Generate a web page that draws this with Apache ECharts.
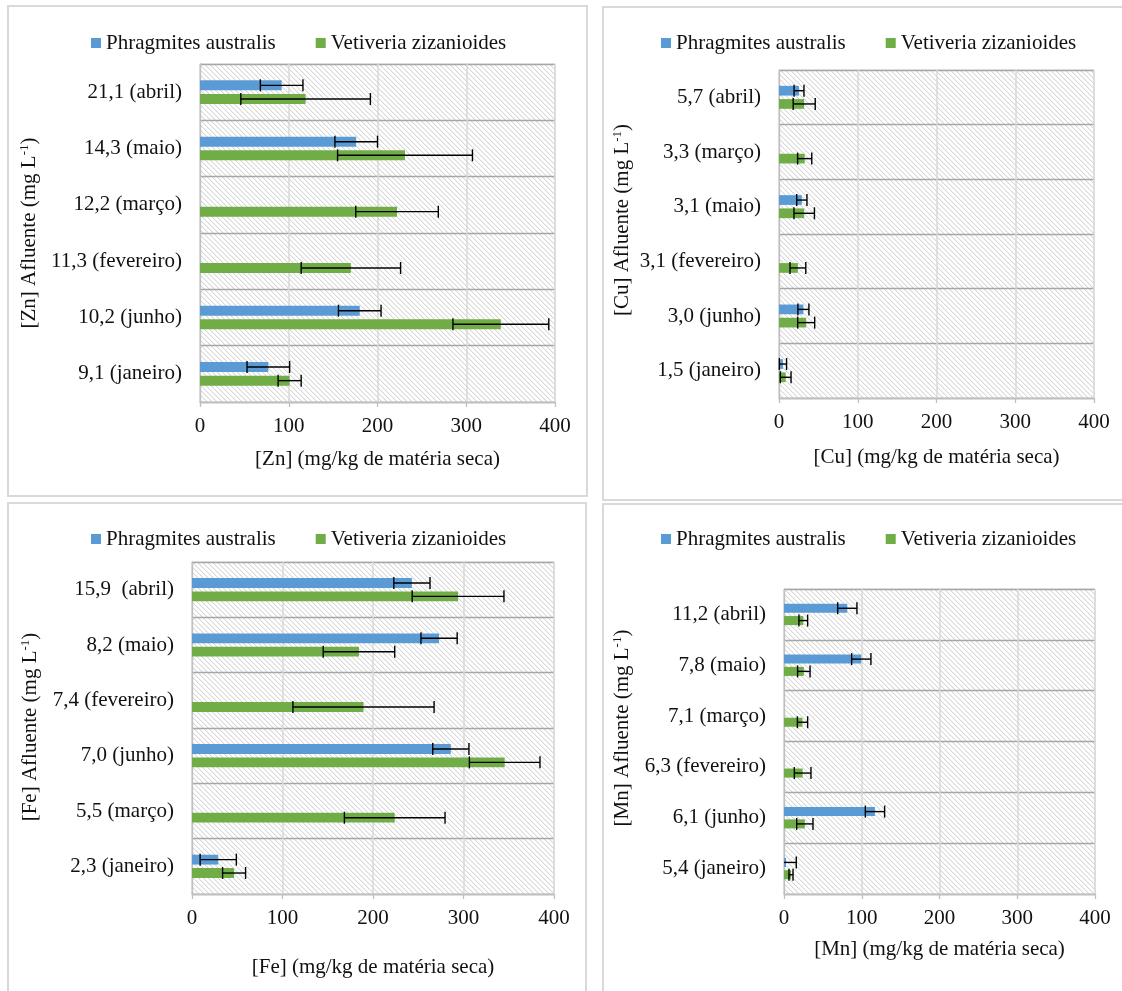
<!DOCTYPE html>
<html>
<head>
<meta charset="utf-8">
<title>Metais na biomassa</title>
<script src="https://cdn.jsdelivr.net/npm/echarts@6/dist/echarts.min.js"></script>
<style>
  html, body { margin: 0; padding: 0; background: #ffffff; }
  #chart { width: 1122px; height: 991px; }
</style>
</head>
<body>
<div id="chart"></div>
<script>
// ---- Dados (concentração no afluente, mês) ----
const seriesNames = ['Phragmites australis', 'Vetiveria zizanioides'];
const tickValues = [0, 100, 200, 300, 400];

const znCategories = ['9,1 (janeiro)', '10,2 (junho)', '11,3 (fevereiro)', '12,2 (março)', '14,3 (maio)', '21,1 (abril)'];
const znPhragmites = [77, 180, null, null, 176, 92];
const znPhragmitesErr = [24, 24, null, null, 24, 24];
const znVetiveria = [101, 339, 170, 222, 231, 119];
const znVetiveriaErr = [13, 54, 56, 46.5, 76, 73];

const cuCategories = ['1,5 (janeiro)', '3,0 (junho)', '3,1 (fevereiro)', '3,1 (maio)', '3,3 (março)', '5,7 (abril)'];
const cuPhragmites = [5, 31, null, 29, null, 25.4];
const cuPhragmitesErr = [4.6, 7, null, 6.5, null, 6.3];
const cuVetiveria = [8.5, 34.5, 24, 32, 32.6, 32];
const cuVetiveriaErr = [6.8, 10.8, 10, 13, 9, 14];

const feCategories = ['2,3 (janeiro)', '5,5 (março)', '7,0 (junho)', '7,4 (fevereiro)', '8,2 (maio)', '15,9  (abril)'];
const fePhragmites = [29, null, 286, null, 273, 243];
const fePhragmitesErr = [20, null, 20, null, 20, 20];
const feVetiveria = [46.5, 224, 345.5, 189.5, 184.5, 294];
const feVetiveriaErr = [12.7, 55.6, 39, 78, 39.5, 50.7];

const mnCategories = ['5,4 (janeiro)', '6,1 (junho)', '6,3 (fevereiro)', '7,1 (março)', '7,8 (maio)', '11,2 (abril)'];
const mnPhragmites = [2.6, 117, null, null, 99.4, 81.4];
const mnPhragmitesErr = [13.2, 12.4, null, null, 12.4, 12.4];
const mnVetiveria = [9, 26.8, 24, 23.8, 25.5, 24.8];
const mnVetiveriaErr = [2.6, 10.5, 10.7, 6.6, 8, 5.6];

// ---- Estilo ----
const FONT = "'Liberation Serif', 'Times New Roman', serif";
const TEXT = '#111111';
const BLUE = '#5B9BD5';
const GREEN = '#70AD47';
const CAT_GAP = 0.58;   // barCategoryGap
const BAR_GAP = 0.36;   // barGap

// Diagonal hatch used as plot-area fill
function hatchCanvas() {
  const n = 5;
  const c = document.createElement('canvas');
  c.width = n; c.height = n;
  const ctx = c.getContext('2d');
  ctx.fillStyle = '#ffffff';
  ctx.fillRect(0, 0, n, n);
  for (let i = 0; i < n; i++) {
    ctx.fillStyle = '#d8d8d8';
    ctx.fillRect(i, i, 1, 1);
    ctx.fillStyle = '#f0f0f0';
    ctx.fillRect((i + 1) % n, i, 1, 1);
  }
  return c;
}
const hatch = { image: hatchCanvas(), repeat: 'repeat' };

// Error bar drawn at the end of each bar, offset to the bar's slot
function errorRenderer(sign) {
  return function (params, api) {
    const cat = api.value(0);
    const mean = api.value(1);
    const err = api.value(2);
    const band = api.size([0, 1])[1];
    const barW = band * (1 - CAT_GAP) / (2 + BAR_GAP);
    const dy = sign * barW * (1 + BAR_GAP) / 2;
    const lowV = mean - err;
    const pLow = api.coord([Math.max(lowV, 0), cat]);
    const pHigh = api.coord([mean + err, cat]);
    const y = pLow[1] + dy;
    const half = 6;
    const st = { stroke: '#000000', lineWidth: 1.4 };
    const children = [
      { type: 'line', shape: { x1: pLow[0], y1: y, x2: pHigh[0], y2: y }, style: st },
      { type: 'line', shape: { x1: pHigh[0], y1: y - half, x2: pHigh[0], y2: y + half }, style: st }
    ];
    if (lowV >= 0) {
      children.push({ type: 'line', shape: { x1: pLow[0], y1: y - half, x2: pLow[0], y2: y + half }, style: st });
    }
    return { type: 'group', children: children };
  };
}

function errData(values, errs) {
  const out = [];
  values.forEach(function (v, i) {
    if (v !== null && errs[i] !== null) out.push([i, v, errs[i]]);
  });
  return out;
}

const panels = [
  { cats: znCategories, a: znPhragmites, aErr: znPhragmitesErr, b: znVetiveria, bErr: znVetiveriaErr,
    grid: { left: 200, top: 64, width: 355, height: 338 }, xName: '[Zn] (mg/kg de matéria seca)', nameGap: 47,
    legend: { left: 91, top: 31 }, yTitle: { x: 29, y: 233, el: 'Zn' } },
  { cats: cuCategories, a: cuPhragmites, aErr: cuPhragmitesErr, b: cuVetiveria, bErr: cuVetiveriaErr,
    grid: { left: 779, top: 70, width: 315, height: 328 }, xName: '[Cu] (mg/kg de matéria seca)', nameGap: 49,
    legend: { left: 661, top: 31 }, yTitle: { x: 622, y: 220, el: 'Cu' } },
  { cats: feCategories, a: fePhragmites, aErr: fePhragmitesErr, b: feVetiveria, bErr: feVetiveriaErr,
    grid: { left: 192, top: 562, width: 362, height: 332 }, xName: '[Fe] (mg/kg de matéria seca)', nameGap: 63,
    legend: { left: 91, top: 527 }, yTitle: { x: 30, y: 727, el: 'Fe' } },
  { cats: mnCategories, a: mnPhragmites, aErr: mnPhragmitesErr, b: mnVetiveria, bErr: mnVetiveriaErr,
    grid: { left: 784, top: 589, width: 311, height: 305 }, xName: '[Mn] (mg/kg de matéria seca)', nameGap: 45,
    legend: { left: 661, top: 527 }, yTitle: { x: 622, y: 728, el: 'Mn' } }
];

const option = {
  backgroundColor: '#ffffff',
  animation: false,
  textStyle: { fontFamily: FONT, color: TEXT },
  grid: [], xAxis: [], yAxis: [], legend: [], series: [], graphic: []
};

// panel frames
[
  { x: 8, y: 6, width: 579, height: 490 },
  { x: 603, y: 7, width: 530, height: 493 },
  { x: 8, y: 503, width: 578, height: 500 },
  { x: 603, y: 504, width: 530, height: 500 }
].forEach(function (r) {
  option.graphic.push({ type: 'rect', silent: true, z: -10, shape: r,
    style: { fill: 'none', stroke: '#d9d9d9', lineWidth: 2 } });
});

panels.forEach(function (p, k) {
  option.grid.push(Object.assign({ show: true, backgroundColor: hatch, borderColor: '#d9d9d9', borderWidth: 1 }, p.grid));
  option.xAxis.push({
    gridIndex: k, type: 'value', min: tickValues[0], max: tickValues[tickValues.length - 1], interval: 100,
    name: p.xName, nameLocation: 'middle', nameGap: p.nameGap,
    nameTextStyle: { fontFamily: FONT, fontSize: 21, color: TEXT },
    axisLine: { show: true, lineStyle: { color: '#bfbfbf', width: 1.3 } },
    axisTick: { show: true, length: 5, lineStyle: { color: '#bfbfbf', width: 1.3 } },
    axisLabel: { margin: 14, fontFamily: FONT, fontSize: 21, color: TEXT },
    splitLine: { show: true, lineStyle: { color: '#d9d9d9', width: 1.5 } }
  });
  option.yAxis.push({
    gridIndex: k, type: 'category', data: p.cats,
    axisLine: { show: true, lineStyle: { color: '#bfbfbf', width: 1.3 } },
    axisTick: { show: false },
    axisLabel: { margin: 18, interval: 0, fontFamily: FONT, fontSize: 21, color: TEXT },
    splitLine: { show: true, lineStyle: { color: '#a6a6a6', width: 1.3 } }
  });
  option.legend.push({
    left: p.legend.left, top: p.legend.top, padding: 0, itemGap: 40,
    itemWidth: 10, itemHeight: 10, icon: 'rect', data: seriesNames,
    selectedMode: false,
    textStyle: { fontFamily: FONT, fontSize: 21, color: TEXT, lineHeight: 24 }
  });
  option.series.push(
    { type: 'bar', name: seriesNames[0], xAxisIndex: k, yAxisIndex: k, data: p.a,
      itemStyle: { color: BLUE }, barGap: (BAR_GAP * 100) + '%', barCategoryGap: (CAT_GAP * 100) + '%' },
    { type: 'bar', name: seriesNames[1], xAxisIndex: k, yAxisIndex: k, data: p.b,
      itemStyle: { color: GREEN }, barGap: (BAR_GAP * 100) + '%', barCategoryGap: (CAT_GAP * 100) + '%' },
    { type: 'custom', name: 'erro ' + seriesNames[0], xAxisIndex: k, yAxisIndex: k, z: 5,
      encode: { x: 1, y: 0 }, renderItem: errorRenderer(-1), data: errData(p.a, p.aErr) },
    { type: 'custom', name: 'erro ' + seriesNames[1], xAxisIndex: k, yAxisIndex: k, z: 5,
      encode: { x: 1, y: 0 }, renderItem: errorRenderer(1), data: errData(p.b, p.bErr) }
  );
  option.graphic.push({
    type: 'text', x: p.yTitle.x, y: p.yTitle.y, rotation: Math.PI / 2, silent: true,
    style: {
      text: '[' + p.yTitle.el + '] Afluente (mg L{sup|-1})',
      fontFamily: FONT, fontSize: 21, fill: TEXT, align: 'center', verticalAlign: 'middle',
      rich: { sup: { fontFamily: FONT, fontSize: 13, fill: TEXT, verticalAlign: 'top' } }
    }
  });
});

const chart = echarts.init(document.getElementById('chart'), null, { renderer: 'canvas' });
chart.setOption(option);
</script>
</body>
</html>
